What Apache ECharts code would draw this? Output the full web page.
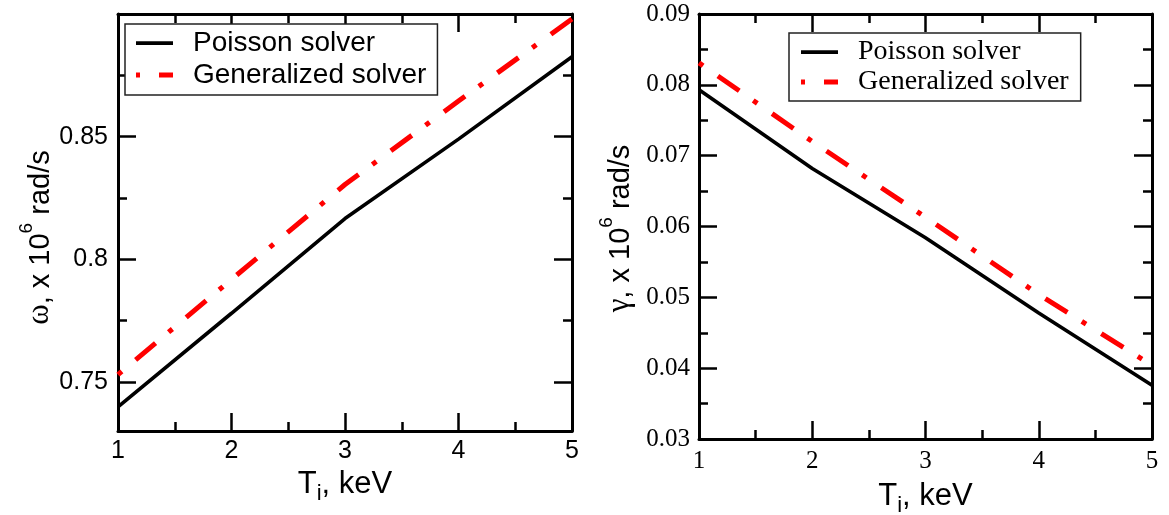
<!DOCTYPE html>
<html><head><meta charset="utf-8">
<script src="https://cdn.jsdelivr.net/npm/echarts@6/dist/echarts.min.js"></script>
<style>html,body{margin:0;padding:0;background:#fff}#c{width:1169px;height:515px}</style>
</head><body><div id="c"></div>
<script>
var tiValues = [1, 2, 3, 4, 5];
var omegaPoisson = [0.7398, 0.778, 0.8166, 0.849, 0.8826];
var omegaGeneralized = [0.753, 0.7918, 0.8305, 0.8645, 0.898];
var gammaPoisson = [0.0793, 0.0682, 0.0584, 0.0478, 0.0376];
var gammaGeneralized = [0.0831, 0.0720, 0.0613, 0.0504, 0.0404];
var omegaMajorTicks = [0.75, 0.8, 0.85];
var omegaMinorTicks = [0.775, 0.825, 0.875];
var seriesNames = ['Poisson solver', 'Generalized solver'];

function pairs(xs, ys){ return xs.map(function(x,i){ return [x, ys[i]]; }); }

var SANS = 'Liberation Sans';
var SERIF = 'Liberation Serif';
var frame = {show:true, onZero:false, lineStyle:{color:'#000', width:3}};
var noLine = {show:false};
var solidIcon = 'path://M0,0.8h37v3.6h-37z M0,0h0.01v0.01h-0.01z M0,4.99h0.01v0.01h-0.01z';
var dashDotIcon = 'path://M0,0h4v5h-4z M23,0h14v5h-14z';

function xAx(gi, pos, labelFont, withName){
  var a = {
    type:'value', gridIndex:gi, position:pos, min:1, max:5, interval:1,
    axisLine: frame,
    axisTick:{show:true, inside:true, length:18, lineStyle:{color:'#000', width:2.5}},
    minorTick:{show:true, splitNumber:2, length:9, lineStyle:{color:'#000', width:2.5}},
    splitLine:{show:false}, minorSplitLine:{show:false},
    axisLabel:{show: pos==='bottom', margin: labelFont===SANS?8:10, color:'#000', fontSize:25, fontFamily:labelFont}
  };
  if (withName){
    a.name = '{m|T}{s|i}{m|, keV}';
    a.nameLocation = 'middle';
    a.nameGap = gi===0 ? 38 : 42;
    a.nameTextStyle = {rich:{
      m:{fontSize:31, fontFamily:SANS, color:'#000', lineHeight:36, verticalAlign:'top'},
      s:{fontSize:22, fontFamily:SANS, color:'#000', lineHeight:36, verticalAlign:'bottom'}
    }};
  }
  return a;
}
function yName(sym, pad){
  return {
    name:'{g|' + sym + '}{m|, x 10}{p|6}{m| rad/s}', nameLocation:'middle', nameRotate:90,
    nameTextStyle:{padding:pad, rich:{
      g:{fontSize:31, fontFamily:SERIF, color:'#000', lineHeight:38, verticalAlign:'bottom'},
      m:{fontSize:29, fontFamily:SANS, color:'#000', lineHeight:38, verticalAlign:'bottom'},
      p:{fontSize:19, fontFamily:SANS, color:'#000', lineHeight:20, verticalAlign:'top'}
    }}
  };
}
function legendOf(left, top, font, gap){
  return {data:[{name:seriesNames[0], icon:solidIcon}, {name:seriesNames[1], icon:dashDotIcon}],
    orient:'vertical', left:left, top:top, itemWidth:37, itemHeight:5, itemGap:gap,
    itemStyle:{borderWidth:0},
    borderColor:'#222', borderWidth:1.5, backgroundColor:'#fff', borderRadius:0,
    textStyle:{fontSize:28, fontFamily:font, color:'#000', lineHeight:30, padding:[0,0,0,15]}};
}

var lg0 = legendOf(125, 24, SANS, 2); lg0.padding = [4,11,5,11];
var lg1 = legendOf(789, 33, SERIF, 0); lg1.padding = [4,12,4,12];

var yL = yName('ω', [0,30,0,0]);
var yR = yName('γ', [0,4,0,0]);

var option = {
  backgroundColor:'#fff',
  animation:false,
  grid:[
    {left:118, top:14, width:454, height:417, outerBoundsMode:'none', containLabel:false},
    {left:699, top:14, width:453, height:425, outerBoundsMode:'none', containLabel:false}
  ],
  legend:[lg0, lg1],
  xAxis:[
    xAx(0,'bottom',SANS,true),
    xAx(0,'top',SANS,false),
    xAx(1,'bottom',SERIF,true),
    xAx(1,'top',SERIF,false)
  ],
  yAxis:[
    Object.assign({type:'value', gridIndex:0, position:'left', min:0.73, max:0.9,
     axisLine:frame,
     axisTick:{show:true, inside:true, length:18, customValues:omegaMajorTicks, lineStyle:{color:'#000', width:2.5}},
     axisLabel:{show:true, customValues:omegaMajorTicks, margin:10, color:'#000', fontSize:25, fontFamily:SANS,
       formatter:function(v){ return String(+(+v).toFixed(2)); }},
     splitLine:{show:false}, nameGap:60}, yL),
    {type:'value', gridIndex:0, position:'left', min:0.73, max:0.9,
     axisLine:noLine, axisLabel:{show:false}, splitLine:{show:false},
     axisTick:{show:true, inside:true, length:9, customValues:omegaMinorTicks, lineStyle:{color:'#000', width:2.5}}},
    {type:'value', gridIndex:0, position:'right', min:0.73, max:0.9,
     axisLine:frame, axisLabel:{show:false}, splitLine:{show:false},
     axisTick:{show:true, inside:true, length:18, customValues:omegaMajorTicks, lineStyle:{color:'#000', width:2.5}}},
    {type:'value', gridIndex:0, position:'right', min:0.73, max:0.9,
     axisLine:noLine, axisLabel:{show:false}, splitLine:{show:false},
     axisTick:{show:true, inside:true, length:9, customValues:omegaMinorTicks, lineStyle:{color:'#000', width:2.5}}},
    Object.assign({type:'value', gridIndex:1, position:'left', min:0.03, max:0.09, interval:0.01,
     axisLine:frame,
     axisTick:{show:true, inside:true, length:18, lineStyle:{color:'#000', width:2.5}},
     minorTick:{show:true, splitNumber:2, length:9, lineStyle:{color:'#000', width:2.5}},
     splitLine:{show:false}, minorSplitLine:{show:false},
     axisLabel:{show:true, margin:9, color:'#000', fontSize:25, fontFamily:SERIF,
       formatter:function(v){ return (+v).toFixed(2); }},
     nameGap:64}, yR),
    {type:'value', gridIndex:1, position:'right', min:0.03, max:0.09, interval:0.01,
     axisLine:frame,
     axisTick:{show:true, inside:true, length:18, lineStyle:{color:'#000', width:2.5}},
     minorTick:{show:true, splitNumber:2, length:9, lineStyle:{color:'#000', width:2.5}},
     splitLine:{show:false}, minorSplitLine:{show:false},
     axisLabel:{show:false}}
  ],
  series:[
    {name:seriesNames[0], type:'line', xAxisIndex:0, yAxisIndex:0, data:pairs(tiValues, omegaPoisson),
     symbol:'none', lineStyle:{color:'#000', width:3.6}, itemStyle:{color:'#000'}, z:3},
    {name:seriesNames[1], type:'line', xAxisIndex:0, yAxisIndex:0, data:pairs(tiValues, omegaGeneralized),
     symbol:'none', lineStyle:{color:'#ff0000', width:5, type:[26,17,5,18], dashOffset:43, cap:'butt'}, itemStyle:{color:'#ff0000'}, z:3},
    {name:seriesNames[0], type:'line', xAxisIndex:2, yAxisIndex:4, data:pairs(tiValues, gammaPoisson),
     symbol:'none', lineStyle:{color:'#000', width:3.6}, itemStyle:{color:'#000'}, z:3},
    {name:seriesNames[1], type:'line', xAxisIndex:2, yAxisIndex:4, data:pairs(tiValues, gammaGeneralized),
     symbol:'none', lineStyle:{color:'#ff0000', width:5, type:[26,17,5,18], dashOffset:43, cap:'butt'}, itemStyle:{color:'#ff0000'}, z:3}
  ]
};
var chart = echarts.init(document.getElementById('c'), null, {renderer:'canvas'});
chart.setOption(option);
</script>
</body></html>
